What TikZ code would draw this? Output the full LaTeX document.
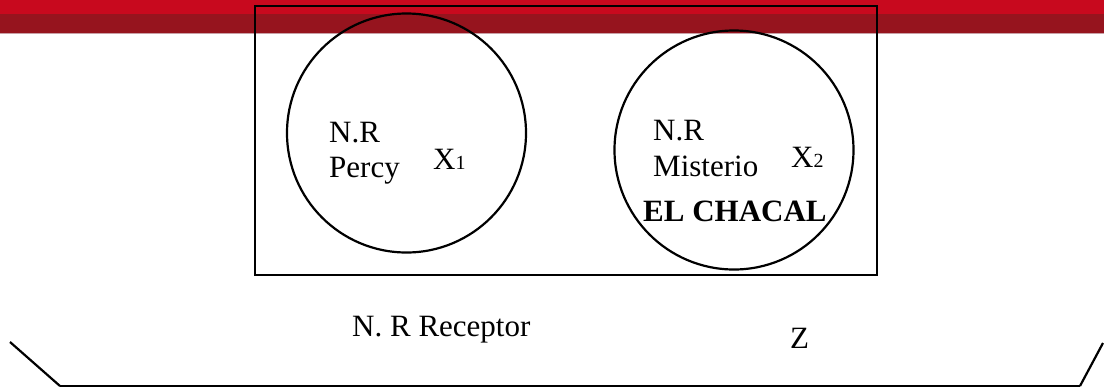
\documentclass[tikz,border=0pt]{standalone}
\usepackage{fontspec}
\setmainfont{Liberation Serif}
\definecolor{bannertop}{HTML}{C8091E}
\definecolor{bannerlow}{HTML}{96141E}
\definecolor{bannerrule}{HTML}{C9A0A6}
\tikzset{
  ink/.style={line width=2.2pt, draw=black},
  label/.style={inner sep=0pt, anchor=base west, font=\fontsize{31}{34}\selectfont},
  boldlabel/.style={label, font=\fontsize{31}{34}\selectfont\bfseries},
  set/.style={ink, circle, minimum size=239pt, inner sep=0pt},
}
\newcommand{\sub}[1]{{\fontsize{20}{20}\selectfont #1}}
\begin{document}
\begin{tikzpicture}[x=1pt, y=-1pt]
  \useasboundingbox (0,0) rectangle (1104,389);
  % red header band
  \fill[bannertop] (0,0) rectangle (1104,13.5);
  \fill[bannerlow] (0,13.5) rectangle (1104,33.3);
  \fill[bannerrule] (0,33.3) rectangle (1104,34.3);

  % universe box and the two sets
  \node[ink, rectangle, minimum width=622pt, minimum height=269pt, inner sep=0pt]
    (frame) at (566,140.5) {};
  \node[set] (c1) at (406.5,133) {};
  \node[set] (c2) at (734,150) {};

  % text inside the first set
  \node[label] (nr1) at (329,142.7) {N.R};
  \node[label] (percy) at (329,177) {Percy};
  \node[label] (x1) at (433,169) {X\sub{1}};

  % text inside the second set
  \node[label] (nr2) at (653,140.7) {N.R};
  \node[label] (misterio) at (653,176.7) {Misterio};
  \node[label] (x2) at (791,167) {X\sub{2}};
  \node[boldlabel] (chacal) at (643,221.7) {EL CHACAL};

  % labels below the box
  \node[label] (receptor) at (352,336.7) {N. R Receptor};
  \node[label] (z) at (790,348) {Z};

  % open tray at the bottom
  \coordinate (tl) at (10,342);
  \coordinate (bl) at (60,386);
  \coordinate (br) at (1080,386);
  \coordinate (tr) at (1103,343);
  \draw[ink] (tl) -- (bl);
  \draw[ink] (bl) -- (br);
  \draw[ink] (br) -- (tr);
\end{tikzpicture}
\end{document}
